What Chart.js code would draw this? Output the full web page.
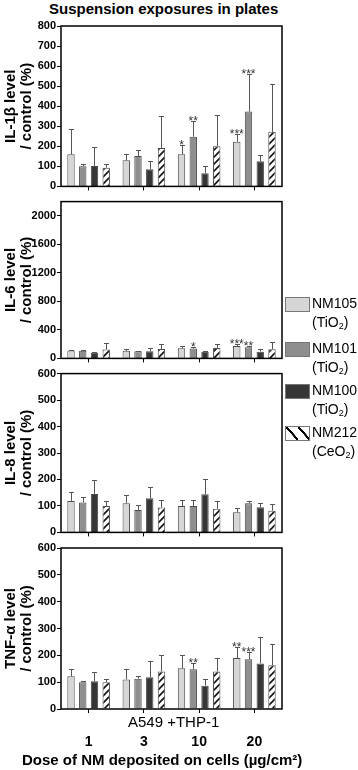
<!DOCTYPE html>
<html>
<head>
<meta charset="utf-8">
<script src="https://cdn.jsdelivr.net/npm/chart.js@4.4.1/dist/chart.umd.min.js"></script>
<style>
  body { margin: 0; width: 358px; height: 770px; position: relative; background: #fff; overflow: hidden;
         font-family: "Liberation Sans", Arial, sans-serif; color: #000; }
  .abs { position: absolute; white-space: nowrap; }
  canvas { position: absolute; left: 0; }
  .box { position: absolute; left: 285px; width: 23px; height: 13px; border: 1px solid #777; }
  .lt { position: absolute; left: 312px; font-size: 14px; line-height: 19px; }
  sub { font-size: 9px; vertical-align: -2px; line-height: 0; }
</style>
</head>
<body>
<div class="abs" style="left:49px;top:0px;font-weight:bold;font-size:15px;line-height:17px;">Suspension exposures in plates</div>

<canvas id="c1" width="358" height="194" style="top:0px"></canvas>
<canvas id="c2" width="358" height="172" style="top:194px"></canvas>
<canvas id="c3" width="358" height="174" style="top:366px"></canvas>
<canvas id="c4" width="358" height="230" style="top:540px"></canvas>

<div id="legend"></div>

<div class="abs" style="left:128px;top:713px;font-size:15px;line-height:18px;">A549 +THP-1</div>
<div class="abs" style="left:22px;top:751px;font-size:15px;line-height:18px;font-weight:bold;">Dose of NM deposited on cells (µg/cm²)</div>

<script>
// dose groups (µg/cm²)
const doses = ['1', '3', '10', '20'];
const materials = ['NM105', 'NM101', 'NM100', 'NM212'];
const formulas = ['TiO2', 'TiO2', 'TiO2', 'CeO2'];

// IL-1β (% of control): mean, SD, significance
const il1bMean = [[160, 130, 160, 223], [100, 152, 248, 373], [102, 86, 66, 125], [93, 192, 200, 272]];
const il1bSd   = [[128, 33, 48, 40],    [12, 30, 78, 189],    [95, 40, 36, 32],   [19, 160, 155, 241]];
const il1bSig  = [['', '', '*', '***'], ['', '', '**', '***'], ['', '', '', ''], ['', '', '', '']];

// IL-6
const il6Mean = [[110, 106, 142, 175], [106, 101, 138, 155], [78, 101, 92, 95], [124, 133, 147, 130]];
const il6Sd   = [[14, 32, 37, 32],     [9, 9, 23, 25],       [9, 41, 14, 30],  [87, 74, 60, 98]];
const il6Sig  = [['', '', '', '***'], ['', '', '*', '**'], ['', '', '', ''], ['', '', '', '']];

// IL-8
const il8Mean = [[119, 110, 100, 76], [113, 85, 100, 110], [145, 129, 144, 95], [100, 94, 89, 82]];
const il8Sd   = [[34, 30, 23, 17],    [21, 18, 23, 10],    [53, 42, 59, 16],    [20, 27, 30, 27]];
const il8Sig  = [['', '', '', ''], ['', '', '', ''], ['', '', '', ''], ['', '', '', '']];

// TNF-α
const tnfMean = [[122, 110, 152, 190], [100, 113, 148, 185], [103, 118, 87, 170], [100, 140, 140, 163]];
const tnfSd   = [[28, 38, 48, 40],     [3, 9, 24, 26],       [34, 60, 26, 98],    [12, 62, 50, 80]];
const tnfSig  = [['', '', '', '**'], ['', '', '**', '***'], ['', '', '', ''], ['', '', '', '']];

const fills = ['#d6d6d6', '#8e8e8e', '#363636', null];
const FONT = '"Liberation Sans", Arial, sans-serif';

function hatch(ctx) {
  const c = document.createElement('canvas');
  c.width = 7; c.height = 7;
  const x = c.getContext('2d');
  x.fillStyle = '#fff';
  x.fillRect(0, 0, 7, 7);
  x.strokeStyle = '#111';
  x.lineWidth = 1.6;
  x.beginPath();
  x.moveTo(-1, 8); x.lineTo(8, -1);
  x.moveTo(-1, 1); x.lineTo(1, -1);
  x.moveTo(6, 8); x.lineTo(8, 6);
  x.stroke();
  return ctx.createPattern(c, 'repeat');
}

// error bars (upper only) and asterisks
const errorBars = {
  id: 'errorBars',
  afterDatasetsDraw(chart) {
    const ctx = chart.ctx;
    const y = chart.scales.y;
    ctx.save();
    chart.data.datasets.forEach((ds, i) => {
      const meta = chart.getDatasetMeta(i);
      meta.data.forEach((bar, j) => {
        const top = y.getPixelForValue(ds.data[j] + ds.sd[j]);
        const x = Math.round(bar.x) + 0.5;
        ctx.strokeStyle = '#555';
        ctx.lineWidth = 1;
        ctx.beginPath();
        ctx.moveTo(x, bar.y);
        ctx.lineTo(x, Math.round(top) + 0.5);
        ctx.moveTo(x - 2.5, Math.round(top) + 0.5);
        ctx.lineTo(x + 2.5, Math.round(top) + 0.5);
        ctx.stroke();
        if (ds.sig[j]) {
          ctx.fillStyle = '#333';
          ctx.font = '12px ' + FONT;
          ctx.textAlign = 'center';
          ctx.textBaseline = 'alphabetic';
          ctx.fillText(ds.sig[j], bar.x, top + 4);
        }
      });
    });
    ctx.restore();
  }
};

const frame = {
  id: 'frame',
  afterDraw(chart) {
    const a = chart.chartArea;
    const ctx = chart.ctx;
    ctx.save();
    ctx.strokeStyle = '#000';
    ctx.lineWidth = 1.5;
    ctx.strokeRect(a.left, a.top, a.right - a.left, a.bottom - a.top);
    ctx.restore();
  }
};

function panel(id, title, yMax, yStep, means, sds, sigs, padTop, xHeight, showX) {
  const canvas = document.getElementById(id);
  const ctx = canvas.getContext('2d');
  const datasets = materials.map((m, i) => ({
    label: m + ' (' + formulas[i] + ')',
    data: means[i],
    sd: sds[i],
    sig: sigs[i],
    backgroundColor: fills[i] || hatch(ctx),
    borderColor: '#4a4a4a',
    borderWidth: 1,
    categoryPercentage: 0.85,
    barPercentage: 0.63
  }));
  return new Chart(ctx, {
    type: 'bar',
    data: { labels: doses, datasets: datasets },
    options: {
      responsive: false,
      animation: false,
      devicePixelRatio: 1,
      layout: { padding: { top: padTop, right: 76, left: 0, bottom: 0 } },
      plugins: { legend: { display: false }, tooltip: { enabled: false } },
      scales: {
        x: {
          offset: true,
          grid: { display: true, offset: false, drawOnChartArea: false, drawTicks: true, tickLength: 4, color: '#000', lineWidth: 1 },
          border: { display: false },
          ticks: { display: showX, color: '#000', padding: 21, font: { family: FONT, size: 14, weight: 'bold' } },
          afterFit(s) { s.height = xHeight; }
        },
        y: {
          min: 0,
          max: yMax,
          grid: { display: true, drawOnChartArea: false, drawTicks: true, tickLength: 4, color: '#000', lineWidth: 1 },
          border: { display: false },
          ticks: {
            stepSize: yStep, color: '#000', padding: 1,
            font: { family: FONT, size: 11, weight: 'bold' },
            callback: (v) => String(v)
          },
          title: {
            display: true,
            text: [title, '/ control (%)'],
            color: '#000',
            padding: { top: 3, bottom: 0 },
            font: { family: FONT, size: 15, weight: 'bold', lineHeight: 1.07 }
          },
          afterFit(s) { s.width = 61; }
        }
      }
    },
    plugins: [errorBars, frame]
  });
}

panel('c1', 'IL-1β level', 800, 100, il1bMean, il1bSd, il1bSig, 26, 7, false);
panel('c2', 'IL-6 level', 2200, 200, il6Mean, il6Sd, il6Sig, 7, 6, false);
panel('c3', 'IL-8 level', 600, 100, il8Mean, il8Sd, il8Sig, 7, 7, false);
panel('c4', 'TNF-α level', 600, 100, tnfMean, tnfSd, tnfSig, 8, 61, true);

// legend
const legendTops = [297, 342, 384, 426];
const legend = document.getElementById('legend');
materials.forEach((m, i) => {
  const box = document.createElement('div');
  box.className = 'box';
  box.style.top = legendTops[i] + 'px';
  if (fills[i]) {
    box.style.background = fills[i];
  } else {
    box.style.background = '#fff linear-gradient(to top right, transparent 44%, #000 45%, #000 56%, transparent 57%) 0 0 / 12px 13px repeat-x';
  }
  legend.appendChild(box);
  const t = document.createElement('div');
  t.className = 'lt';
  t.style.top = (legendTops[i] - 3) + 'px';
  t.innerHTML = m + '<br>(' + formulas[i].replace(/2$/, '<sub>2</sub>') + ')';
  legend.appendChild(t);
});
</script>
</body>
</html>
